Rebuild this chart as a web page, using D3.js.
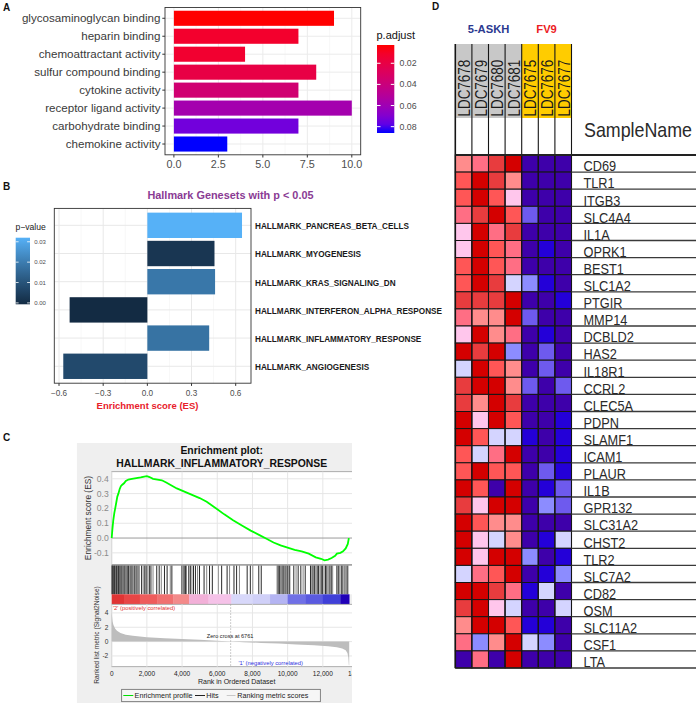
<!DOCTYPE html>
<html><head><meta charset="utf-8">
<script src="https://cdn.jsdelivr.net/npm/d3@7"></script>
<style>
body{margin:0;background:#fff}
svg{display:block}
text{font-family:"Liberation Sans",Arial,Helvetica,sans-serif}
</style>
</head><body>
<svg id="c" width="696" height="703"></svg>
<script>
// ---------------- Panel A data ----------------
const goTerms = ["glycosaminoglycan binding","heparin binding","chemoattractant activity","sulfur compound binding","cytokine activity","receptor ligand activity","carbohydrate binding","chemokine activity"];
const goCounts = [9,7,4,8,7,10,7,3];
const goPadj = [0.0027,0.012,0.013,0.02,0.036,0.058,0.074,0.086];
const goXTicks = [0,2.5,5,7.5,10];
const goXMinor = [1.25,3.75,6.25,8.75];
const padjTicks = [0.02,0.04,0.06,0.08];

// ---------------- Panel B data ----------------
const hallmarkSets = ["HALLMARK_PANCREAS_BETA_CELLS","HALLMARK_MYOGENESIS","HALLMARK_KRAS_SIGNALING_DN","HALLMARK_INTERFERON_ALPHA_RESPONSE","HALLMARK_INFLAMMATORY_RESPONSE","HALLMARK_ANGIOGENESIS"];
const hallmarkES = [0.643,0.456,0.46,-0.528,0.42,-0.571];
const hallmarkP = [0.032,0.003,0.019,0.0,0.018,0.008];
const esTicks = [-0.6,-0.3,0,0.3,0.6];
const esMinor = [-0.45,-0.15,0.15,0.45];
const pTicks = [0,0.01,0.02,0.03];

// ---------------- Panel C data ----------------
const esCurve = [[0,0],[40,0.06],[90,0.12],[150,0.17],[200,0.2],[260,0.24],[320,0.28],[380,0.30],[450,0.33],[520,0.35],[600,0.36],[700,0.37],[800,0.385],[950,0.395],[1150,0.40],[1400,0.405],[1650,0.41],[1850,0.415],[2000,0.418],[2150,0.412],[2350,0.40],[2600,0.395],[2850,0.39],[3100,0.375],[3400,0.355],[3700,0.335],[4000,0.32],[4300,0.305],[4700,0.285],[5000,0.27],[5400,0.245],[5700,0.22],[6000,0.195],[6400,0.16],[6900,0.12],[7400,0.085],[7900,0.05],[8400,0.02],[8800,-0.005],[9200,-0.03],[9600,-0.05],[10000,-0.065],[10400,-0.08],[10800,-0.09],[11200,-0.105],[11600,-0.13],[11900,-0.14],[12100,-0.15],[12300,-0.145],[12500,-0.135],[12700,-0.12],[12800,-0.105],[13000,-0.1],[13150,-0.09],[13300,-0.07],[13420,-0.04],[13480,0]];
const hitRanks = [15,45,80,120,160,200,250,290,330,380,430,480,530,590,640,700,760,820,880,950,1020,1090,1160,1230,1310,1390,1470,1550,1700,1790,1880,1960,2050,2140,2230,2350,2560,2700,2820,3000,3150,3330,3420,3990,4060,4120,4200,4250,4380,4470,4560,4650,4760,4880,4990,5250,5400,5560,5720,6060,6250,6560,6700,6950,7100,7260,7700,7880,8020,8360,8500,9400,9460,9530,9600,9680,9750,9820,9900,9980,10060,10120,10350,10480,10600,10750,10880,11000,11300,11370,11440,11520,11600,11680,11760,11840,11910,11990,12070,12150,12230,12310,12400,12480,12560,12800,12880,12960,13050,13140,13230,13320,13420];
const rankedMetric = [[0,4.2],[20,3.5],[50,2.8],[100,2.3],[200,1.8],[300,1.5],[500,1.2],[800,0.95],[1200,0.8],[1600,0.7],[2000,0.6],[3000,0.45],[4000,0.35],[5000,0.25],[6000,0.12],[6761,0],[7500,-0.08],[8500,-0.18],[9500,-0.28],[10500,-0.4],[11500,-0.52],[12300,-0.65],[12800,-0.8],[13100,-0.95],[13300,-1.2],[13400,-1.6],[13450,-2.2],[13480,-3.3],[13500,-3.3]];
const zeroCross = 6761;
const gseaXTicks = [0,2000,4000,6000,8000,10000,12000,14000];
const gseaESTicks = [-0.1,0,0.1,0.2,0.3,0.4];
const gseaMetricTicks = [-2,0,2,4];
const bandStarts = [0,700,1600,2600,3500,4400,5500,6800,8000,9000,10000,11000,12000,13000];
const bandEnds   = [700,1600,2600,3500,4400,5500,6800,8000,9000,10000,11000,12000,13000,13500];
const bandColors = ["#e03434","#e84646","#ee5c5c","#f07070","#f38a8a","#f2b0d8","#f5c2e8","#d8d8fa","#d0d0f8","#b4b4f2","#7070e6","#5a5ae0","#4040d8","#2000b8"];

// ---------------- Panel D data ----------------
const samples = ["LDC7678","LDC7679","LDC7680","LDC7681","LDC7675","LDC7676","LDC7677"];
const sampleGroups = ["5-ASKH","5-ASKH","5-ASKH","5-ASKH","FV9","FV9","FV9"];
const groupNames = ["5-ASKH","FV9"];
const genes = ["CD69","TLR1","ITGB3","SLC4A4","IL1A","OPRK1","BEST1","SLC1A2","PTGIR","MMP14","DCBLD2","HAS2","IL18R1","CCRL2","CLEC5A","PDPN","SLAMF1","ICAM1","PLAUR","IL1B","GPR132","SLC31A2","CHST2","TLR2","SLC7A2","CD82","OSM","SLC11A2","CSF1","LTA"];
const expr = [
[1,2,4,5,-4,-4,-4],
[3,5,4,1,-4,-4,-4],
[3,5,3,0.5,-4,-4,-4],
[2,4,5,3,-2,-4,-4],
[0.5,5,2,4,-4,-4,-4],
[0.5,5,3,2,-4,-3,-4],
[3,5,3,2,-4,-4,-4],
[3,5,4,-0.5,-1,-3,-4],
[4,4,4,5,-4,-4,-3],
[2,1,1,5,-2,-4,-4],
[0.5,5,1,2,-4,-3,-4],
[5,4,5,-1,-4,-2,-4],
[-0.5,5,3,1,-4,-2,-4],
[4,5,5,1,-2,-4,-2],
[4,1,5,4,-4,-4,-4],
[5,0.5,5,3,-4,-4,-3],
[5,3,-0.5,-0.5,-3,-4,-3],
[3,-0.5,2,5,-4,-4,-3],
[3,5,3,3,-4,-2,-3],
[5,3,-4,5,-4,-3,-2],
[4,0.5,5,5,-4,-1,-2],
[5,3,1,1,-4,-4,-4],
[5,0.5,-0.5,1,-4,-3,-0.5],
[5,0.5,5,5,-1,-4,-3],
[-0.5,2,3,5,-4,-3,-1],
[5,5,4,2,-3,-0.5,-4],
[4,5,0.5,-0.5,-4,-4,-0.5],
[1,5,5,3,-3,-3,-4],
[2,-1,1,5,-0.5,-1,-4],
[-4,2,-4,5,-4,-4,-4]
];
const exprLevels = [5,4,3,2,1,0.5,-0.5,-1,-2,-3,-4];
const exprColors = ["#d40000","#e83c3e","#ff5656","#ff6e84","#ff8c8c","#ffc6ec","#d4d4ff","#8c8cff","#6e5aee","#2400d8","#3e00aa"];

// =====================================================
const svg = d3.select("#c");
const fmt1 = d3.format(".1f");

// ---------- panel letters ----------
[["A",3,11],["B",3,190],["C",3,441],["D",432,10]].forEach(([t,x,y])=>{
  svg.append("text").attr("x",x).attr("y",y).text(t)
    .attr("font-size",10).attr("font-weight","bold").attr("fill","#111");
});

// ================= Panel A =================
(function(){
  const g = svg.append("g");
  const x = d3.scaleLinear().domain([-0.5,10.5]).range([165,360.7]);
  const y = d3.scaleBand().domain(goTerms).range([7.5,154.8]).paddingInner(0.16).paddingOuter(0.18);
  const col = d3.scaleLinear().domain([0.0027,0.086]).range(["#ff0000","#0000ff"]).interpolate(d3.interpolateLab);
  const top=7.5,bot=154.8,left=165,right=360.7;
  g.append("rect").attr("x",left).attr("y",top).attr("width",right-left).attr("height",bot-top).attr("fill","#fff");
  g.selectAll(".mn").data(goXMinor).join("line").attr("x1",d=>x(d)).attr("x2",d=>x(d)).attr("y1",top).attr("y2",bot).attr("stroke","#f4f4f4").attr("stroke-width",0.6);
  g.selectAll(".mj").data(goXTicks).join("line").attr("x1",d=>x(d)).attr("x2",d=>x(d)).attr("y1",top).attr("y2",bot).attr("stroke","#ebebeb").attr("stroke-width",1);
  g.selectAll(".hg").data(goTerms).join("line").attr("x1",left).attr("x2",right).attr("y1",d=>y(d)+y.bandwidth()/2).attr("y2",d=>y(d)+y.bandwidth()/2).attr("stroke","#ebebeb").attr("stroke-width",1);
  g.selectAll(".bar").data(goTerms).join("rect")
    .attr("x",x(0)).attr("y",d=>y(d)).attr("height",y.bandwidth())
    .attr("width",(d,i)=>x(goCounts[i])-x(0)).attr("fill",(d,i)=>col(goPadj[i]));
  g.append("rect").attr("x",left).attr("y",top).attr("width",right-left).attr("height",bot-top).attr("fill","none").attr("stroke","#333").attr("stroke-width",0.9);
  // y axis
  g.selectAll(".yt").data(goTerms).join("line").attr("x1",left-2.7).attr("x2",left).attr("y1",d=>y(d)+y.bandwidth()/2).attr("y2",d=>y(d)+y.bandwidth()/2).attr("stroke","#333");
  g.selectAll(".yl").data(goTerms).join("text").attr("x",left-4.5).attr("y",d=>y(d)+y.bandwidth()/2).attr("dy","0.35em")
    .attr("text-anchor","end").attr("font-size",11.6).attr("fill","#3a3a3a").text(d=>d);
  // x axis
  g.selectAll(".xt").data(goXTicks).join("line").attr("x1",d=>x(d)).attr("x2",d=>x(d)).attr("y1",bot).attr("y2",bot+2.7).attr("stroke","#333");
  g.selectAll(".xl").data(goXTicks).join("text").attr("x",d=>x(d)).attr("y",164.5).attr("dy","0.35em")
    .attr("text-anchor","middle").attr("font-size",10.8).attr("fill","#4d4d4d").text(d=>fmt1(d));
  // legend
  const ly = d3.scaleLinear().domain([0.0027,0.086]).range([45,133]);
  const defs = svg.append("defs");
  const grad = defs.append("linearGradient").attr("id","gA").attr("x1",0).attr("y1",0).attr("x2",0).attr("y2",1);
  d3.range(0,1.0001,0.1).forEach(t=>grad.append("stop").attr("offset",t).attr("stop-color",col(0.0027+t*(0.086-0.0027))));
  g.append("text").attr("x",376.5).attr("y",39).attr("font-size",11).attr("fill","#111").text("p.adjust");
  g.append("rect").attr("x",377).attr("y",45).attr("width",17.3).attr("height",88).attr("fill","url(#gA)");
  padjTicks.forEach(v=>{
    g.append("line").attr("x1",377).attr("x2",380.5).attr("y1",ly(v)).attr("y2",ly(v)).attr("stroke","#fff");
    g.append("line").attr("x1",390.8).attr("x2",394.3).attr("y1",ly(v)).attr("y2",ly(v)).attr("stroke","#fff");
  });
  g.selectAll(".ll").data(padjTicks).join("text").attr("x",399.5).attr("y",d=>ly(d)).attr("dy","0.35em")
    .attr("font-size",8.8).attr("fill","#4d4d4d").text(d=>d3.format(".2f")(d));
})();

// ================= Panel B =================
(function(){
  const g = svg.append("g");
  const left=54.3,right=251,top=208.4,bot=383.2;
  const x = d3.scaleLinear().domain([-0.632,0.704]).range([left,right]);
  const y = d3.scaleBand().domain(hallmarkSets).range([top,bot]).paddingInner(0.1).paddingOuter(0.15);
  const col = d3.scaleLinear().domain([0,0.032]).range(["#132B43","#56B1F7"]).interpolate(d3.interpolateLab);
  g.append("text").attr("x",230.5).attr("y",195).attr("dy","0.35em").attr("text-anchor","middle")
    .attr("font-size",10.9).attr("font-weight","bold").attr("fill","#8a3b94").text("Hallmark Genesets with p < 0.05");
  g.append("rect").attr("x",left).attr("y",top).attr("width",right-left).attr("height",bot-top).attr("fill","#fff");
  g.selectAll(".mn").data(esMinor).join("line").attr("x1",d=>x(d)).attr("x2",d=>x(d)).attr("y1",top).attr("y2",bot).attr("stroke","#f2f2f2").attr("stroke-width",0.6);
  g.selectAll(".mj").data(esTicks).join("line").attr("x1",d=>x(d)).attr("x2",d=>x(d)).attr("y1",top).attr("y2",bot).attr("stroke","#e8e8e8").attr("stroke-width",1);
  g.selectAll(".hg").data(hallmarkSets).join("line").attr("x1",left).attr("x2",right).attr("y1",d=>y(d)+y.bandwidth()/2).attr("y2",d=>y(d)+y.bandwidth()/2).attr("stroke","#e8e8e8").attr("stroke-width",1);
  g.selectAll(".bar").data(hallmarkSets).join("rect")
    .attr("x",(d,i)=>Math.min(x(0),x(hallmarkES[i]))).attr("y",d=>y(d)).attr("height",y.bandwidth())
    .attr("width",(d,i)=>Math.abs(x(hallmarkES[i])-x(0))).attr("fill",(d,i)=>col(hallmarkP[i]));
  g.append("rect").attr("x",left).attr("y",top).attr("width",right-left).attr("height",bot-top).attr("fill","none").attr("stroke","#333").attr("stroke-width",0.9);
  g.selectAll(".rl").data(hallmarkSets).join("text").attr("x",255).attr("y",d=>y(d)+y.bandwidth()/2+1).attr("dy","0.35em")
    .attr("font-size",8.2).attr("font-weight","bold").attr("fill","#1a1a1a").text(d=>d);
  g.selectAll(".xt").data(esTicks).join("line").attr("x1",d=>x(d)).attr("x2",d=>x(d)).attr("y1",bot).attr("y2",bot+2.7).attr("stroke","#333");
  g.selectAll(".xl").data(esTicks).join("text").attr("x",d=>x(d)).attr("y",393.5).attr("dy","0.35em")
    .attr("text-anchor","middle").attr("font-size",8.2).attr("fill","#4d4d4d").text(d=>fmt1(d));
  g.append("text").attr("x",147.5).attr("y",405.5).attr("dy","0.35em").attr("text-anchor","middle")
    .attr("font-size",9.5).attr("font-weight","bold").attr("fill","#e8202a").text("Enrichment score (ES)");
  // legend
  const ly = d3.scaleLinear().domain([0,0.032]).range([302.9,237.7]);
  const grad = svg.select("defs").append("linearGradient").attr("id","gB").attr("x1",0).attr("y1",1).attr("x2",0).attr("y2",0);
  d3.range(0,1.0001,0.1).forEach(t=>grad.append("stop").attr("offset",t).attr("stop-color",col(t*0.032)));
  g.append("text").attr("x",15.5).attr("y",226.8).attr("dy","0.35em").attr("font-size",8.6).attr("fill","#222").text("p\u2212value");
  g.append("rect").attr("x",15.7).attr("y",237.7).attr("width",14.3).attr("height",66.6).attr("fill","url(#gB)");
  pTicks.forEach(v=>{
    g.append("line").attr("x1",15.7).attr("x2",18.6).attr("y1",ly(v)).attr("y2",ly(v)).attr("stroke","#fff").attr("stroke-width",0.8);
    g.append("line").attr("x1",27.1).attr("x2",30).attr("y1",ly(v)).attr("y2",ly(v)).attr("stroke","#fff").attr("stroke-width",0.8);
  });
  g.selectAll(".pl").data(pTicks).join("text").attr("x",34.2).attr("y",d=>ly(d)).attr("dy","0.35em")
    .attr("font-size",6).attr("fill","#4d4d4d").text(d=>d3.format(".2f")(d));
})();

// ================= Panel C =================
(function(){
  svg.select("defs").append("clipPath").attr("id","clipC").append("rect").attr("x",76.7).attr("y",443).attr("width",275.3).attr("height",260);
  const g = svg.append("g").attr("clip-path","url(#clipC)");
  const x = d3.scaleLinear().domain([0,14000]).range([111.7,358]);
  const yE = d3.scaleLinear().domain([-0.182,0.448]).range([565,471.7]);
  const yM = d3.scaleLinear().domain([-3.5,5.2]).range([666.7,604.3]);
  const L=111.7,R=358;
  g.append("rect").attr("x",76.7).attr("y",443).attr("width",275.3).attr("height",260).attr("fill","#efefef");
  g.append("text").attr("x",221.7).attr("y",450.5).attr("dy","0.35em").attr("text-anchor","middle").attr("font-size",10.4).attr("font-weight","bold").attr("fill","#111").text("Enrichment plot:");
  g.append("text").attr("x",221.7).attr("y",463).attr("dy","0.35em").attr("text-anchor","middle").attr("font-size",10.4).attr("font-weight","bold").attr("fill","#111").text("HALLMARK_INFLAMMATORY_RESPONSE");
  // ES panel
  g.append("rect").attr("x",L).attr("y",471.7).attr("width",R-L).attr("height",565-471.7).attr("fill","#fff").attr("stroke","#9a9a9a").attr("stroke-width",0.8);
  g.selectAll(".vg").data(gseaXTicks).join("line").attr("x1",d=>x(d)).attr("x2",d=>x(d)).attr("y1",471.7).attr("y2",565).attr("stroke","#e6e6e6");
  g.selectAll(".hg").data(gseaESTicks).join("line").attr("x1",L).attr("x2",R).attr("y1",d=>yE(d)).attr("y2",d=>yE(d)).attr("stroke",d=>d===0?"#9a9a9a":"#e6e6e6");
  g.append("path").datum(esCurve).attr("fill","none").attr("stroke","#00ff00").attr("stroke-width",1.8)
    .attr("d",d3.line().x(d=>x(d[0])).y(d=>yE(d[1])));
  g.selectAll(".el").data(gseaESTicks).join("text").attr("x",108.8).attr("y",d=>yE(d)).attr("dy","0.35em").attr("text-anchor","end")
    .attr("font-size",8.6).attr("fill","#8a8a8a").text(d=>fmt1(d).replace("\u2212","-"));
  g.append("text").attr("transform","translate(91.3,518) rotate(-90)").attr("text-anchor","middle").attr("font-size",8.4).attr("fill","#333").text("Enrichment score (ES)");
  // hits
  g.append("rect").attr("x",L).attr("y",565).attr("width",R-L).attr("height",29.3).attr("fill","#fff");
  g.selectAll(".hit").data(hitRanks).join("line").attr("x1",d=>x(d)).attr("x2",d=>x(d)).attr("y1",565.5).attr("y2",594.3)
    .attr("stroke",(d,i)=>i%3===2?"#777":"#111").attr("stroke-width",0.9);
  g.append("line").attr("x1",L).attr("x2",R).attr("y1",565).attr("y2",565).attr("stroke","#666").attr("stroke-width",0.9);
  // correlation colour bar
  g.selectAll(".band").data(bandStarts).join("rect").attr("x",d=>x(d)).attr("y",594.3)
    .attr("width",(d,i)=>x(bandEnds[i])-x(d)+0.3).attr("height",10).attr("fill",(d,i)=>bandColors[i]);
  // ranked metric
  g.append("rect").attr("x",L).attr("y",604.3).attr("width",R-L).attr("height",666.7-604.3).attr("fill","#fff").attr("stroke","#9a9a9a").attr("stroke-width",0.8);
  g.selectAll(".vg2").data(gseaXTicks).join("line").attr("x1",d=>x(d)).attr("x2",d=>x(d)).attr("y1",604.3).attr("y2",666.7).attr("stroke","#e6e6e6");
  g.selectAll(".hg2").data(gseaMetricTicks).join("line").attr("x1",L).attr("x2",R).attr("y1",d=>yM(d)).attr("y2",d=>yM(d)).attr("stroke","#e6e6e6");
  g.append("path").datum(rankedMetric).attr("fill","#bdbdbd")
    .attr("d",d3.area().x(d=>x(d[0])).y0(yM(0)).y1(d=>yM(d[1])));
  g.append("line").attr("x1",x(zeroCross)).attr("x2",x(zeroCross)).attr("y1",604.3).attr("y2",666.7).attr("stroke","#a0a0a0").attr("stroke-width",0.7).attr("stroke-dasharray","1.5,1.5");
  g.append("text").attr("x",113).attr("y",608).attr("dy","0.35em").attr("font-size",5.8).attr("fill","#e03030").text("'2' (positively correlated)");
  g.append("text").attr("x",x(zeroCross)-0.5).attr("y",635.7).attr("dy","0.35em").attr("text-anchor","middle").attr("font-size",5.6).attr("fill","#222").text("Zero cross at "+zeroCross);
  g.append("text").attr("x",270.7).attr("y",663).attr("dy","0.35em").attr("text-anchor","middle").attr("font-size",5.8).attr("fill","#3030e0").text("'1' (negatively correlated)");
  g.selectAll(".ml").data(gseaMetricTicks).join("text").attr("x",108.3).attr("y",d=>yM(d)).attr("dy","0.35em").attr("text-anchor","end")
    .attr("font-size",6.6).attr("fill","#333").text(d=>String(d));
  g.append("text").attr("transform","translate(98.8,635) rotate(-90)").attr("text-anchor","middle").attr("font-size",6.6).attr("fill","#333").text("Ranked list metric (Signal2Noise)");
  g.selectAll(".xl").data(gseaXTicks).join("text").attr("x",d=>x(d)).attr("y",673.5).attr("dy","0.35em").attr("text-anchor","middle")
    .attr("font-size",6.5).attr("fill","#222").text(d=>d3.format(",")(d));
  g.append("text").attr("x",236.7).attr("y",682).attr("dy","0.35em").attr("text-anchor","middle").attr("font-size",7).attr("fill","#222").text("Rank in Ordered Dataset");
  // legend
  g.append("rect").attr("x",121.7).attr("y",689.3).attr("width",198.6).attr("height",12.4).attr("fill","#f6f6f6").attr("stroke","#555").attr("stroke-width",0.7);
  const leg = [["Enrichment profile","#00e000",123.3,133.3,134.6],["Hits","#222",195,205,206.3],["Ranking metric scores","#c8c8c8",226.7,235.5,237.3]];
  leg.forEach(([t,c,a,b,tx])=>{
    g.append("line").attr("x1",a).attr("x2",b).attr("y1",695.5).attr("y2",695.5).attr("stroke",c).attr("stroke-width",1);
    g.append("text").attr("x",tx).attr("y",695.5).attr("dy","0.35em").attr("font-size",7.2).attr("fill","#222").text(t);
  });
})();

// ================= Panel D =================
(function(){
  const g = svg.append("g");
  const x = d3.scaleBand().domain(samples).range([455.3,571.5]);
  const y = d3.scaleBand().domain(genes).range([155,668]);
  const col = d3.scaleOrdinal().domain(exprLevels).range(exprColors);
  const grpCol = d3.scaleOrdinal().domain(groupNames).range(["#c8c8c8","#ffcc00"]);
  const grpText = d3.scaleOrdinal().domain(groupNames).range(["#2b3990","#ec1c24"]);
  // group labels
  groupNames.forEach(gn=>{
    const cols = samples.filter((s,i)=>sampleGroups[i]===gn);
    const cx = (x(cols[0]) + x(cols[cols.length-1]) + x.bandwidth())/2;
    g.append("text").attr("x",cx).attr("y",29).attr("dy","0.35em").attr("text-anchor","middle")
      .attr("font-size",11.2).attr("font-weight","bold").attr("fill",grpText(gn)).text(gn);
  });
  // header boxes
  g.selectAll(".hd").data(samples).join("rect").attr("x",d=>x(d)).attr("y",44).attr("width",x.bandwidth()).attr("height",74)
    .attr("fill",(d,i)=>grpCol(sampleGroups[i]));
  g.selectAll(".hw").data(samples).join("rect").attr("x",d=>x(d)).attr("y",118).attr("width",x.bandwidth()).attr("height",37).attr("fill","#fff");
  g.selectAll(".hl").data(samples).join("text")
    .attr("transform",d=>`translate(${x(d)+14.6},116.5) rotate(-90) scale(0.8,1)`)
    .attr("font-size",16.8).attr("fill","#1a1a1a").text(d=>d);
  // cells
  genes.forEach((gn,r)=>{
    g.selectAll(".r"+r).data(expr[r]).join("rect")
      .attr("x",(d,i)=>x(samples[i])).attr("y",y(gn)).attr("width",x.bandwidth()).attr("height",y.bandwidth())
      .attr("fill",d=>col(d)).attr("stroke","#151515").attr("stroke-width",1);
  });
  // vertical lines through header
  const bounds = samples.map(s=>x(s)).concat([x(samples[samples.length-1])+x.bandwidth()]);
  g.selectAll(".vl").data(bounds).join("line").attr("x1",d=>d).attr("x2",d=>d).attr("y1",44).attr("y2",668)
    .attr("stroke","#151515").attr("stroke-width",(d,i)=>i===0?1.6:1.1);
  // row lines in label area
  const rowB = genes.map(gn=>y(gn)+y.bandwidth());
  g.selectAll(".rl").data(rowB).join("line").attr("x1",571.5).attr("x2",696).attr("y1",d=>d).attr("y2",d=>d)
    .attr("stroke","#3a3a3a").attr("stroke-width",1.3);
  g.append("line").attr("x1",455.3).attr("x2",696).attr("y1",155).attr("y2",155).attr("stroke","#222").attr("stroke-width",2);
  g.append("line").attr("x1",455.3).attr("x2",571.5).attr("y1",668).attr("y2",668).attr("stroke","#222").attr("stroke-width",1.6);
  // gene labels
  g.selectAll(".gl").data(genes).join("text")
    .attr("transform",d=>`translate(583.5,${y(d)+y.bandwidth()-0.8}) scale(0.85,1)`)
    .attr("font-size",15).attr("fill","#2a2a2a").text(d=>d);
  g.append("text").attr("transform","translate(584,136.8) scale(0.85,1)").attr("font-size",21).attr("fill","#2a2a2a").text("SampleName");
})();
</script>
</body></html>
